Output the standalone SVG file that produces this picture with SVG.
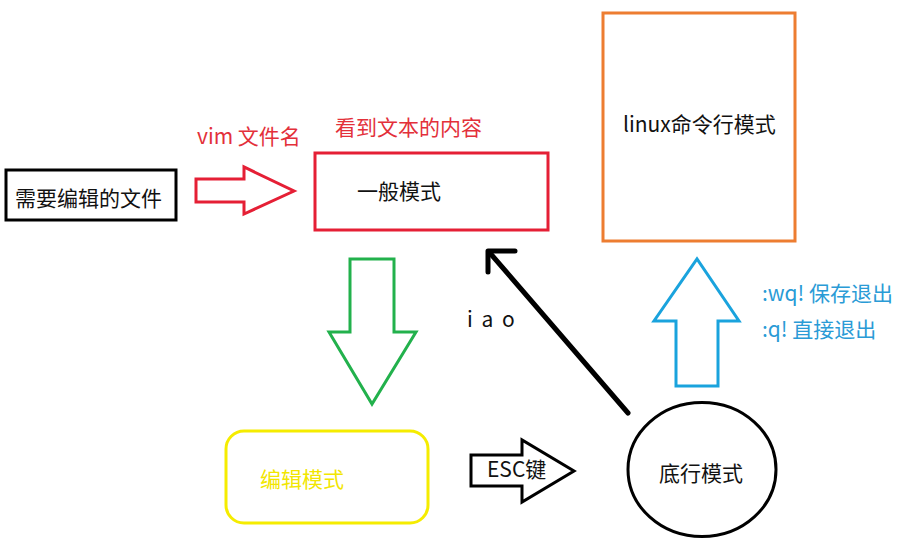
<svg xmlns="http://www.w3.org/2000/svg" width="903" height="546" viewBox="0 0 903 546">
<style>
text{font-family:"Noto Sans CJK SC","Noto Sans",sans-serif;font-size:21px;}
.k{fill:#111;}
.r{fill:#e3303a;}
.b{fill:#2a9bd6;}
.y{fill:#f2e600;}
.node{fill:#fff;stroke-width:3;}
.arr{fill:#fff;stroke-width:3;stroke-linejoin:miter;}
</style>
<rect width="903" height="546" fill="#fff"/>
<g id="connectors">
<polygon id="arrow-vim" class="arr" stroke="#e51f35" points="196,179 244,179 244,167 294,191 244,214 244,202 196,202"/>
<polygon id="arrow-down" class="arr" stroke="#22b14c" points="350,259 394,259 394,332 416,332 372,404 329,332 350,332"/>
<polygon id="arrow-esc" class="arr" stroke="#000" stroke-width="4" points="471,455 522,455 522,440 574,471 522,502 522,486 471,486"/>
<polygon id="arrow-up" class="arr" stroke="#1aa3dd" points="676,386 718,386 718,321 739,321 697,259 654,321 676,321"/>
<g id="arrow-iao" stroke="#000" stroke-width="5" fill="none" stroke-linecap="round" stroke-linejoin="round">
<line x1="628" y1="413" x2="490" y2="253"/>
<polyline points="515,251 488,251 488,272"/>
</g>
</g>
<g id="node-file">
<rect class="node" stroke="#000" stroke-width="4" x="6" y="170" width="170" height="50"/>
<text class="k" x="15" y="206">需要编辑的文件</text>
</g>
<g id="node-normal">
<rect class="node" stroke="#e51f35" x="315" y="153" width="233" height="77"/>
<text class="k" x="357" y="199">一般模式</text>
</g>
<g id="node-edit">
<rect class="node" stroke="#f5ec00" x="226" y="431" width="202" height="92" rx="18"/>
<text class="y" x="260" y="487">编辑模式</text>
</g>
<g id="node-lastline">
<ellipse class="node" stroke="#000" cx="702" cy="469.5" rx="74" ry="67"/>
<text class="k" x="659" y="481">底行模式</text>
</g>
<g id="node-linux">
<rect class="node" stroke="#ed7d31" x="603" y="13" width="192" height="228"/>
<text class="k" x="623" y="132">linux命令行模式</text>
</g>
<g id="labels">
<text class="r" x="197" y="144">vim 文件名</text>
<text class="r" x="335" y="135">看到文本的内容</text>
<text class="k" x="467" y="327" font-size="19" letter-spacing="2">i a o</text>
<text class="k" x="487" y="477">ESC键</text>
<text class="b" x="762" y="301">:wq! 保存退出</text>
<text class="b" x="762" y="337">:q! 直接退出</text>
</g>
</svg>
